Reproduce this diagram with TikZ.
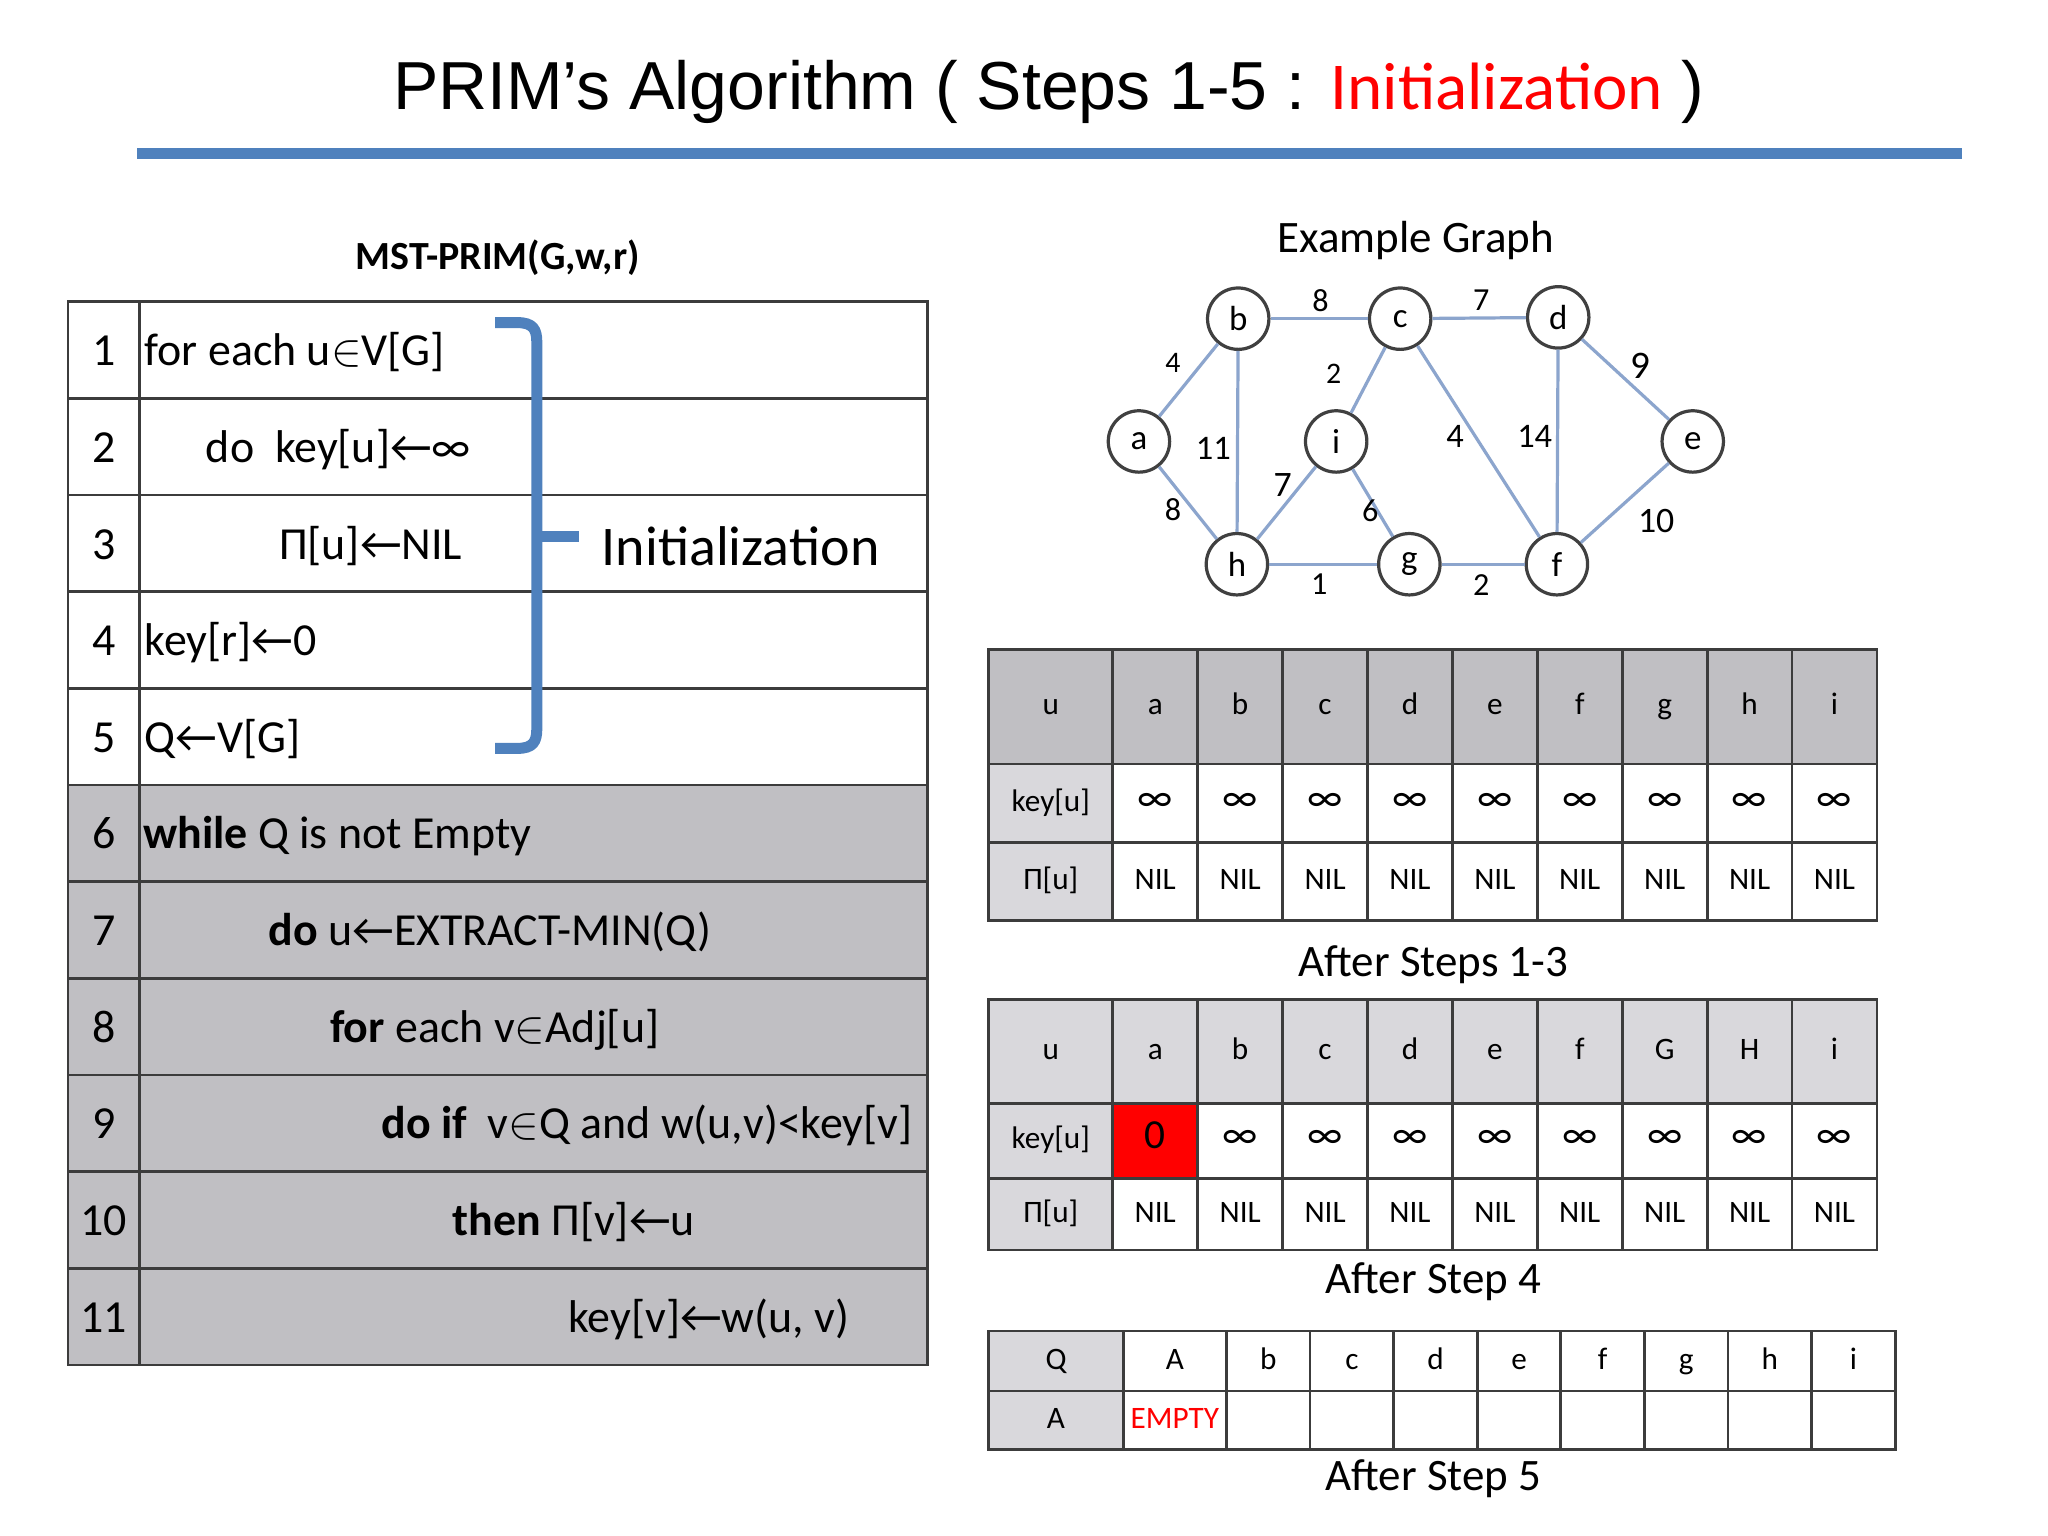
\documentclass[tikz,border=0pt]{standalone}
\usepackage{fontspec}
\setmainfont{Carlito}
\newfontfamily\bodyfont{Carlito}
\newfontfamily\titlefont{Liberation Sans}
\newcommand{\elem}{$\in$}
\newcommand{\larr}{←}
\definecolor{slideblue}{RGB}{79,129,189}
\definecolor{rowgrey}{RGB}{192,191,195}
\definecolor{lightgrey}{RGB}{217,216,220}
\definecolor{edgeblue}{RGB}{140,165,205}
\definecolor{gridline}{RGB}{60,60,60}
\tikzstyle{grid}=[draw=gridline, line width=0.6pt]
\tikzstyle{lineno}=[anchor=base, inner sep=0pt, font=\fontsize{10}{12}\selectfont]
\tikzstyle{codeline}=[anchor=base west, inner sep=0pt, font=\fontsize{10}{12}\selectfont]
\tikzstyle{brace}=[draw=slideblue, line width=2.4pt]
\tikzstyle{vertex}=[circle, draw=black!75, line width=0.7pt, minimum size=0.47cm, inner sep=0pt, fill=white, font=\fontsize{7.6}{8}\selectfont]
\tikzstyle{edge}=[draw=edgeblue, line width=0.7pt]
\tikzstyle{weight}=[inner sep=0pt, font=\fontsize{7}{7}\selectfont]
\tikzstyle{cell}=[draw=gridline, line width=0.6pt, inner sep=0pt, text height=5pt, text depth=1.5pt, font=\fontsize{6.8}{8}\selectfont]
\tikzstyle{caption}=[anchor=base, inner sep=0pt, font=\fontsize{9.8}{12}\selectfont]

\begin{document}
\begin{tikzpicture}[y=-1cm]
\useasboundingbox (0,0) rectangle (15.68,11.76);
% title
\node[anchor=base, inner sep=0pt] (title) at (8.03,0.84) {\titlefont\fontsize{14.8}{18}\selectfont PRIM’s Algorithm ( Steps 1-5 : {\bodyfont\fontsize{14.6}{18}\selectfont\color{red}Initialization} )};
\fill[slideblue] (1.05,1.13) rectangle (15.02,1.22);

% pseudo-code
\node[anchor=base, inner sep=0pt, font=\bfseries\fontsize{8.7}{10}\selectfont] (prim) at (3.81,2.06) {MST-PRIM(G,w,r)};
\fill[rowgrey] (0.52,6.01) rectangle (7.10,10.45);
\foreach \r in {1,...,11} {
  \draw[grid] (0.52,{2.31+0.74*(\r-1)}) rectangle (7.10,{3.05+0.74*(\r-1)});
  \node[lineno] (n\r) at (0.795,{2.80+0.74*(\r-1)}) {\r};
}
\draw[grid] (1.07,2.31) -- (1.07,10.45);
\node[codeline] (c1) at (1.10,2.80) {for each u\elem V[G]};
\node[codeline] (c2) at (1.57,3.54) {do\ \ key[u]\larr∞};
\node[codeline] (c3) at (2.13,4.28) {Π[u]\larr NIL};
\node[codeline] (c4) at (1.10,5.02) {key[r]\larr 0};
\node[codeline] (c5) at (1.10,5.76) {Q\larr V[G]};
\node[codeline] (c6) at (1.09,6.50) {\textbf{while} Q is not Empty};
\node[codeline] (c7) at (2.05,7.24) {\textbf{do} u\larr EXTRACT-MIN(Q)};
\node[codeline] (c8) at (2.52,7.98) {\textbf{for} each v\elem Adj[u]};
\node[codeline] (c9) at (2.915,8.72) {\textbf{do if}\ \ v\elem Q and w(u,v)<key[v]};
\node[codeline] (c10) at (3.46,9.46) {\textbf{then} Π[v]\larr u};
\node[codeline] (c11) at (4.345,10.20) {key[v]\larr w(u, v)};
\draw[brace] (3.79,2.47) -- (3.96,2.47) .. controls (4.08,2.47) and (4.11,2.52) .. (4.11,2.62) -- (4.11,5.58) .. controls (4.11,5.68) and (4.08,5.73) .. (3.96,5.73) -- (3.79,5.73);
\draw[brace] (4.08,4.11) -- (4.43,4.11);
\node[anchor=base west, inner sep=0pt, font=\fontsize{12.2}{14}\selectfont] (init) at (4.60,4.33) {Initialization};

% example graph
\node[caption] (gtitle) at (10.84,1.93) {Example Graph};
\node[vertex] (a) at (8.72,3.38) {a};
\node[vertex] (b) at (9.48,2.44) {b};
\node[vertex] (c) at (10.72,2.44) {c};
\node[vertex] (d) at (11.93,2.43) {d};
\node[vertex] (e) at (12.96,3.38) {e};
\node[vertex] (f) at (11.92,4.32) {f};
\node[vertex] (g) at (10.79,4.32) {g};
\node[vertex] (h) at (9.47,4.32) {h};
\node[vertex] (i) at (10.23,3.38) {i};
\draw[edge] (a)--(b);
\draw[edge] (a)--(h);
\draw[edge] (b)--(c);
\draw[edge] (b)--(h);
\draw[edge] (c)--(d);
\draw[edge] (c)--(i);
\draw[edge] (c)--(f);
\draw[edge] (d)--(e);
\draw[edge] (d)--(f);
\draw[edge] (e)--(f);
\draw[edge] (i)--(h);
\draw[edge] (i)--(g);
\draw[edge] (h)--(g);
\draw[edge] (g)--(f);
\node[weight] (wbc) at (10.11,2.30) {8};
\node[weight] (wcd) at (11.34,2.30) {7};
\node[weight, font=\fontsize{6.5}{7}\selectfont] (wab) at (8.98,2.78) {4};
\node[weight, font=\fontsize{6.5}{7}\selectfont] (wci) at (10.21,2.86) {2};
\node[weight, font=\fontsize{8.5}{9}\selectfont] (wde) at (12.56,2.80) {9};
\node[weight, font=\fontsize{7.5}{8}\selectfont] (wbh) at (9.29,3.43) {11};
\node[weight, font=\fontsize{7.5}{8}\selectfont] (wcf) at (11.14,3.34) {4};
\node[weight, font=\fontsize{7.5}{8}\selectfont] (wdf) at (11.75,3.34) {14};
\node[weight, font=\fontsize{7.8}{8}\selectfont] (wih) at (9.82,3.71) {7};
\node[weight] (wah) at (8.98,3.90) {8};
\node[weight] (wig) at (10.49,3.91) {6};
\node[weight, font=\fontsize{7.8}{8}\selectfont] (wef) at (12.68,3.99) {10};
\node[weight] (whg) at (10.10,4.47) {1};
\node[weight] (wgf) at (11.34,4.48) {2};

% after steps 1-3
\node[cell, fill=rowgrey, minimum width=0.95cm, minimum height=0.88cm] (s1u) at (8.045,5.41) {u};
\node[cell, fill=lightgrey, minimum width=0.95cm, minimum height=0.60cm] (s1key) at (8.045,6.15) {key[u]};
\node[cell, fill=lightgrey, minimum width=0.95cm, minimum height=0.60cm] (s1pi) at (8.045,6.75) {Π[u]};
\foreach \v [count=\k] in {a,b,c,d,e,f,g,h,i} {
  \node[cell, fill=rowgrey, minimum width=0.65cm, minimum height=0.88cm] (s1h\k) at ({8.845+0.65*(\k-1)},5.41) {\v};
  \node[cell, minimum width=0.65cm, minimum height=0.60cm, font=\fontsize{9}{9}\selectfont] (s1k\k) at ({8.845+0.65*(\k-1)},6.15) {∞};
  \node[cell, minimum width=0.65cm, minimum height=0.60cm] (s1p\k) at ({8.845+0.65*(\k-1)},6.75) {NIL};
}
\node[caption] (cap1) at (10.975,7.48) {After Steps 1-3};

% after step 4
\node[cell, fill=lightgrey, minimum width=0.95cm, minimum height=0.80cm] (s2u) at (8.045,8.05) {u};
\node[cell, fill=lightgrey, minimum width=0.95cm, minimum height=0.57cm] (s2key) at (8.045,8.735) {key[u]};
\node[cell, fill=lightgrey, minimum width=0.95cm, minimum height=0.55cm] (s2pi) at (8.045,9.295) {Π[u]};
\foreach \v [count=\k] in {a,b,c,d,e,f,G,H,i} {
  \node[cell, fill=lightgrey, minimum width=0.65cm, minimum height=0.80cm] (s2h\k) at ({8.845+0.65*(\k-1)},8.05) {\v};
  \node[cell, minimum width=0.65cm, minimum height=0.55cm] (s2p\k) at ({8.845+0.65*(\k-1)},9.295) {NIL};
}
\node[cell, fill=red, minimum width=0.65cm, minimum height=0.57cm, font=\fontsize{9}{9}\selectfont] (s2k1) at (8.845,8.735) {0};
\foreach \k in {2,...,9} {
  \node[cell, minimum width=0.65cm, minimum height=0.57cm, font=\fontsize{9}{9}\selectfont] (s2k\k) at ({8.845+0.65*(\k-1)},8.735) {∞};
}
\node[caption] (cap2) at (10.975,9.90) {After Step 4};

% after step 5
\node[cell, fill=lightgrey, minimum width=1.03cm, minimum height=0.46cm] (s3q) at (8.085,10.42) {Q};
\node[cell, fill=lightgrey, minimum width=1.03cm, minimum height=0.45cm] (s3a) at (8.085,10.875) {A};
\node[cell, minimum width=0.79cm, minimum height=0.46cm] (s3h1) at (8.995,10.42) {A};
\node[cell, minimum width=0.79cm, minimum height=0.45cm, text=red] (s3e1) at (8.995,10.875) {EMPTY};
\foreach \v [count=\k] in {b,c,d,e,f,g,h,i} {
  \node[cell, minimum width=0.64cm, minimum height=0.46cm] (s3h\v) at ({9.71+0.64*(\k-1)},10.42) {\v};
  \node[cell, minimum width=0.64cm, minimum height=0.45cm] (s3e\v) at ({9.71+0.64*(\k-1)},10.875) {};
}
\node[caption] (cap3) at (10.975,11.41) {After Step 5};
\end{tikzpicture}
\end{document}
